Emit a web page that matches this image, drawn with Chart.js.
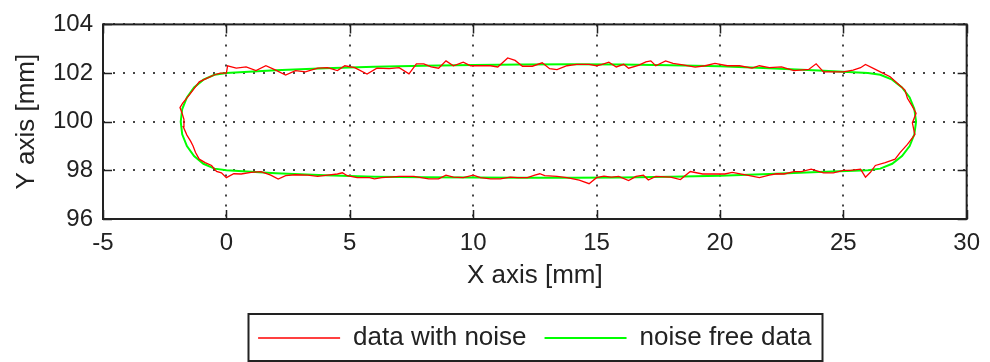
<!DOCTYPE html>
<html>
<head>
<meta charset="utf-8">
<script src="https://cdn.jsdelivr.net/npm/chart.js@4.4.1/dist/chart.umd.min.js"></script>
<style>
  html, body { margin: 0; padding: 0; background: #fff; }
  #wrap { width: 990px; height: 362px; position: relative; }
</style>
</head>
<body>
<div id="wrap"><canvas id="chart"></canvas></div>
<script>
// --- Daten ---
const xTicks = [-5, 0, 5, 10, 15, 20, 25, 30];
const yTicks = [96, 98, 100, 102, 104];

// noise free data: oben -> rechter Bogen -> unten -> linker Bogen
const cleanX = [0, 2, 4, 6, 8, 10, 12, 14, 16, 18, 20, 22, 24, 25, 26,
  26.5, 26.98, 27.38, 27.69, 27.88, 27.95, 27.88, 27.69, 27.38, 26.98, 26.5, 26,
  24, 22, 20, 18, 16, 14, 12, 10, 8, 6, 4, 2, 0,
  -0.48, -0.93, -1.31, -1.6, -1.79, -1.85, -1.79, -1.6, -1.31, -0.93, -0.48, 0];
const cleanY = [102.0, 102.12, 102.2, 102.26, 102.3, 102.33, 102.35, 102.36, 102.35, 102.32, 102.28, 102.2, 102.1, 102.05, 102.0,
  101.93, 101.73, 101.41, 101.0, 100.52, 100, 99.48, 99.0, 98.59, 98.27, 98.07, 98.0,
  97.93, 97.85, 97.78, 97.74, 97.71, 97.7, 97.7, 97.71, 97.72, 97.74, 97.8, 97.88, 98.0,
  98.07, 98.27, 98.59, 99.0, 99.48, 100, 100.52, 101.0, 101.41, 101.73, 101.93, 102.0];

// data with noise
const noisyX = [0.0, 0.05, 0.4, 0.8, 1.2, 1.6, 2.0, 2.4, 2.8, 3.2, 3.7, 4.1, 4.5, 4.8, 5.2, 5.7, 6.1, 6.6, 7.0, 7.4,
  7.7, 8.0, 8.3, 8.6, 8.9, 9.2, 9.6, 9.9, 10.3, 10.7, 11.0, 11.4, 11.7, 12.0, 12.4, 12.8, 13.1, 13.4, 13.8, 14.2,
  14.7, 15.0, 15.2, 15.5, 15.8, 16.1, 16.3, 16.7, 17.0, 17.2, 17.4, 17.8, 18.1, 18.5, 19.0, 19.4, 19.8, 20.3, 20.8, 21.3,
  21.6, 22.0, 22.5, 23.0, 23.6, 23.9, 24.2, 24.6, 25.0, 25.4, 25.7, 25.9, 26.3, 26.6,
  26.9, 27.2, 27.5, 27.6, 27.8, 27.95, 27.8, 27.9, 27.6, 27.3, 27.1, 26.7, 26.3, 26.1, 25.9, 25.7,
  25.3, 25.0, 24.6, 24.2, 23.7, 23.3, 23.0, 22.6, 22.3, 22.0, 21.6, 21.1, 20.5, 20.2, 19.8, 19.3, 18.8, 18.4, 18.0, 17.4,
  17.1, 16.9, 16.6, 16.3, 15.9, 15.6, 15.3, 15.0, 14.7, 14.3, 13.8, 13.4, 12.9, 12.7, 12.5, 12.2, 11.8, 11.5, 11.1, 10.7,
  10.3, 10.0, 9.6, 9.2, 8.9, 8.6, 8.2, 7.6, 7.0, 6.6, 6.3, 6.0, 5.8, 5.3, 4.9, 4.7, 4.5, 4.1, 3.7, 3.3,
  2.8, 2.4, 2.1, 1.8, 1.4, 1.0, 0.6, 0.3, 0.0, -0.2, -0.4,
  -0.6, -0.86, -1.1, -1.25, -1.35, -1.45, -1.6, -1.75, -1.72, -1.78, -1.88, -1.77, -1.5, -1.3, -1.1, -0.8, -0.5, -0.25, 0.0];
const noisyY = [102.0, 102.3, 102.2, 102.25, 102.1, 102.3, 102.12, 101.92, 102.1, 102.05, 102.2, 102.22, 102.1, 102.3, 102.22, 101.96, 102.2, 102.18, 102.22, 101.97,
  102.38, 102.38, 102.25, 102.2, 102.5, 102.3, 102.45, 102.3, 102.3, 102.3, 102.25, 102.62, 102.52, 102.28, 102.28, 102.42, 102.18, 102.14, 102.3, 102.36,
  102.36, 102.3, 102.35, 102.45, 102.25, 102.36, 102.2, 102.32, 102.46, 102.5, 102.3, 102.5, 102.4, 102.34, 102.24, 102.3, 102.4, 102.3, 102.3, 102.2,
  102.3, 102.22, 102.25, 102.1, 102.15, 102.38, 102.05, 102.05, 102.05, 102.12, 102.22, 102.35, 102.15, 102.0,
  101.85, 101.57, 101.3, 100.96, 100.63, 100.35, 99.95, 99.47, 99.07, 98.73, 98.46, 98.32, 98.2, 97.92, 97.72, 98.05,
  98.0, 98.0, 97.9, 97.9, 98.05, 97.95, 97.95, 97.85, 97.86, 97.8, 97.7, 97.8, 97.92, 97.85, 97.85, 97.85, 97.95, 97.62, 97.72, 97.75,
  97.6, 97.8, 97.75, 97.58, 97.75, 97.72, 97.76, 97.7, 97.45, 97.6, 97.7, 97.75, 97.78, 97.86, 97.8, 97.7, 97.7, 97.72, 97.65, 97.65,
  97.7, 97.8, 97.7, 97.72, 97.8, 97.65, 97.65, 97.75, 97.75, 97.72, 97.7, 97.65, 97.7, 97.7, 97.78, 97.9, 97.85, 97.8, 97.75, 97.8,
  97.82, 97.78, 97.64, 97.8, 97.95, 97.92, 97.85, 97.86, 97.7, 97.9, 97.96,
  98.2, 98.32, 98.46, 98.73, 99.0, 99.2, 99.45, 99.8, 100.1, 100.3, 100.58, 100.76, 101.1, 101.37, 101.64, 101.78, 101.92, 102.0, 102.0];

const seriesLabels = ["data with noise", "noise free data"];

const toPoints = (xs, ys) => xs.map((x, i) => ({x, y: ys[i]}));
const FONT = "'Liberation Sans', Arial, sans-serif";
const INK = '#222';

// --- Rahmen + Ticks nach innen (MATLAB-Stil), Legendenrahmen ---
const boxPlugin = {
  id: 'boxPlugin',
  afterDraw(chart) {
    const {ctx, chartArea: a, scales} = chart;
    const tl = 9;
    ctx.save();
    ctx.strokeStyle = INK;
    ctx.lineWidth = 2;
    ctx.strokeRect(a.left, a.top, a.right - a.left, a.bottom - a.top);
    ctx.lineWidth = 1.5;
    ctx.beginPath();
    scales.x.ticks.forEach(t => {
      const px = Math.round(scales.x.getPixelForValue(t.value)) + 0.5;
      ctx.moveTo(px, a.bottom); ctx.lineTo(px, a.bottom - tl);
      ctx.moveTo(px, a.top); ctx.lineTo(px, a.top + tl);
    });
    scales.y.ticks.forEach(t => {
      const py = Math.round(scales.y.getPixelForValue(t.value)) + 0.5;
      ctx.moveTo(a.left, py); ctx.lineTo(a.left + tl, py);
      ctx.moveTo(a.right, py); ctx.lineTo(a.right - tl, py);
    });
    ctx.stroke();

    // Legendenrahmen
    const hb = chart.legend && chart.legend.legendHitBoxes;
    if (hb && hb.length) {
      const first = hb[0], last = hb[hb.length - 1];
      const cy = first.top + first.height / 2;
      const x0 = Math.round(first.left - 10) + 0.5;
      const x1 = Math.round(last.left + last.width + 10) + 0.5;
      ctx.lineWidth = 2;
      ctx.strokeStyle = INK;
      ctx.strokeRect(x0, Math.round(cy - 24), x1 - x0, 47);
    }
    ctx.restore();
  }
};

const gridOpts = {
  color: '#444',
  lineWidth: 2,
  drawTicks: false
};
// in v4 steckt das Strichmuster der Gitterlinien in border.dash
const borderOpts = { display: false, dash: [2, 8] };

new Chart(document.getElementById('chart'), {
  type: 'scatter',
  data: {
    datasets: [
      {
        label: seriesLabels[0],
        data: toPoints(noisyX, noisyY),
        showLine: true,
        borderColor: '#ff0000',
        backgroundColor: '#ff0000',
        borderWidth: 1.3,
        pointRadius: 0,
        tension: 0
      },
      {
        label: seriesLabels[1],
        data: toPoints(cleanX, cleanY),
        showLine: true,
        borderColor: '#00ff00',
        backgroundColor: '#00ff00',
        borderWidth: 2,
        pointRadius: 0,
        tension: 0
      }
    ]
  },
  options: {
    responsive: true,
    maintainAspectRatio: false,
    animation: false,
    devicePixelRatio: 1,
    layout: { padding: { top: 22, left: 0, right: 15, bottom: 1 } },
    scales: {
      x: {
        type: 'linear',
        min: xTicks[0],
        max: xTicks[xTicks.length - 1],
        afterBuildTicks: (s) => { s.ticks = xTicks.map(v => ({value: v})); },
        afterFit: (s) => { s.height = 88; },
        grid: gridOpts,
        border: borderOpts,
        ticks: { color: INK, padding: 10, font: { family: FONT, size: 24 } },
        title: {
          display: true,
          text: 'X axis [mm]',
          color: INK,
          padding: { top: 0, bottom: 16 },
          font: { family: FONT, size: 26 }
        }
      },
      y: {
        type: 'linear',
        min: yTicks[0],
        max: yTicks[yTicks.length - 1],
        afterBuildTicks: (s) => { s.ticks = yTicks.map(v => ({value: v})); },
        afterFit: (s) => { s.width = 103; },
        grid: gridOpts,
        border: borderOpts,
        ticks: { color: INK, padding: 10, font: { family: FONT, size: 24 } },
        title: {
          display: true,
          text: 'Y axis [mm]',
          color: INK,
          padding: { top: 11, bottom: 0 },
          font: { family: FONT, size: 26 }
        }
      }
    },
    plugins: {
      legend: {
        position: 'bottom',
        fullSize: false,
        labels: {
          usePointStyle: true,
          pointStyle: 'line',
          pointStyleWidth: 82,
          padding: 18,
          color: INK,
          font: { family: FONT, size: 26 }
        }
      },
      tooltip: { enabled: false }
    }
  },
  plugins: [boxPlugin]
});
</script>
</body>
</html>
